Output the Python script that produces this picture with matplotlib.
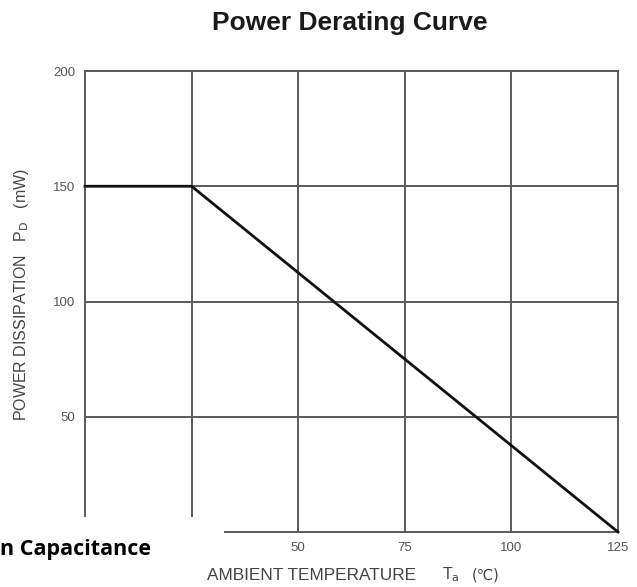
import matplotlib
matplotlib.use("Agg")
import matplotlib.pyplot as plt
from matplotlib.patches import Rectangle

plt.rcParams['font.family'] = ['Liberation Sans', 'DejaVu Sans']

temps = [0, 25, 125]
power = [150, 150, 0]
x_ticks = [25, 50, 75, 100, 125]
y_ticks = [50, 100, 150, 200]

W, H = 637, 587
fig = plt.figure(figsize=(W / 100, H / 100), dpi=100)
L, R, T, B = 85, 618, 71, 532
ax = fig.add_axes([L / W, 1 - B / H, (R - L) / W, (B - T) / H])
ax.set_xlim(0, 125)
ax.set_ylim(0, 200)
ax.set_xticks(x_ticks)
ax.set_yticks(y_ticks)
ax.grid(True, color='#5a5a5a', linewidth=1.4)
ax.set_axisbelow(True)
for s in ax.spines.values():
    s.set_color('#5a5a5a')
    s.set_linewidth(1.4)
ax.tick_params(length=0, labelsize=9.5, labelcolor='#555555', pad=7)
ax.plot(temps, power, color='#111111', linewidth=2.0, zorder=5, clip_on=False)

lab = dict(fontsize=11.5, color='#444444')
# y label
fig.text(22 / W, 1 - 295 / H, r"POWER DISSIPATION   P$_{\mathrm{D}}$   (mW)", rotation=90,
         ha='center', va='center', **lab)
# x label
fig.text(207 / W, 1 - 575 / H, "AMBIENT TEMPERATURE", ha='left', va='center',
         fontsize=12.4, color='#444444')
fig.text(442 / W, 1 - 575 / H, r"T$_{\mathrm{a}}$", ha='left', va='center', **lab)
fig.text(472 / W, 1 - 575 / H, "(℃)", ha='left', va='center',
         family=['DejaVu Sans'], fontsize=10.5, color='#444444')

fig.text(350 / W, 1 - 23 / H, "Power Derating Curve", ha='center', va='center',
         fontsize=19, fontweight='bold', color='#1a1a1a')

fig.patches.append(Rectangle((0, (H - 560) / H), 224 / W, (560 - 517) / H, transform=fig.transFigure,
                             facecolor='white', edgecolor='none', zorder=10))
fig.patches.append(Rectangle((0, 0), 207 / W, (H - 560) / H, transform=fig.transFigure,
                             facecolor='white', edgecolor='none', zorder=10))
fig.text(0, 1 - 550 / H, "n Capacitance", ha='left', va='center', fontsize=15.5,
         fontweight='bold', color='black', family=['Open Sans', 'DejaVu Sans'], zorder=11)

fig.savefig("out.png", dpi=100)
